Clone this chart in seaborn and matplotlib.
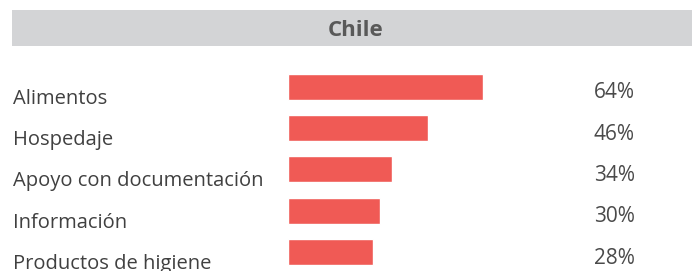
import matplotlib
matplotlib.use("Agg")
import matplotlib.pyplot as plt
import matplotlib.transforms as mtransforms
from matplotlib.patches import Rectangle
import seaborn as sns
import pandas as pd

categories = ["Alimentos", "Hospedaje", "Apoyo con documentación", "Información", "Productos de higiene"]
values = [64, 46, 34, 30, 28]
value_labels = ["64%", "46%", "34%", "30%", "28%"]
title = "Chile"

sns.set_theme(style="white")
plt.rcParams["font.family"] = ["Open Sans", "DejaVu Sans"]

W, H = 692, 271
fig = plt.figure(figsize=(W / 100, H / 100), dpi=100)

# title bar
fig.patches.append(Rectangle((12 / W, 1 - 46 / H), (692 - 12) / W, 36 / H,
                             transform=fig.transFigure, facecolor="#D3D4D6", edgecolor="none"))
fig.text(356 / W, 1 - 31 / H, title, ha="center", va="center", fontsize=16,
         fontweight="bold", color="#595959")

unit = 41.25
top = 87 - unit / 2
bottom = 252 + unit / 2
x0, x1 = 288, 288 + 305
ax = fig.add_axes([x0 / W, 1 - bottom / H, (x1 - x0) / W, (bottom - top) / H])
ax.set_facecolor("none")

df = pd.DataFrame({"cat": categories, "val": values})
sns.barplot(data=df, x="val", y="cat", orient="h", color="#F05A55", saturation=1,
            width=26 / unit, ax=ax)
ax.set_xlim(0, 100)
ax.set_ylim(len(categories) - 0.5, -0.5)
for s in ax.spines.values():
    s.set_visible(False)
ax.set_xticks([])
ax.set_yticks([])
ax.set_xlabel("")
ax.set_ylabel("")

tr = mtransforms.blended_transform_factory(fig.transFigure, ax.transData)
for i, (c, v) in enumerate(zip(categories, value_labels)):
    ax.text(13 / W, i + 12 / unit, c, transform=tr, ha="left", va="center",
            fontsize=14.5, color="#404040", clip_on=False)
    ax.text(635 / W, i + 6 / unit, v, transform=tr, ha="right", va="center",
            fontsize=15, color="#4a4a4a", clip_on=False)

fig.savefig("out.png", dpi=100)
